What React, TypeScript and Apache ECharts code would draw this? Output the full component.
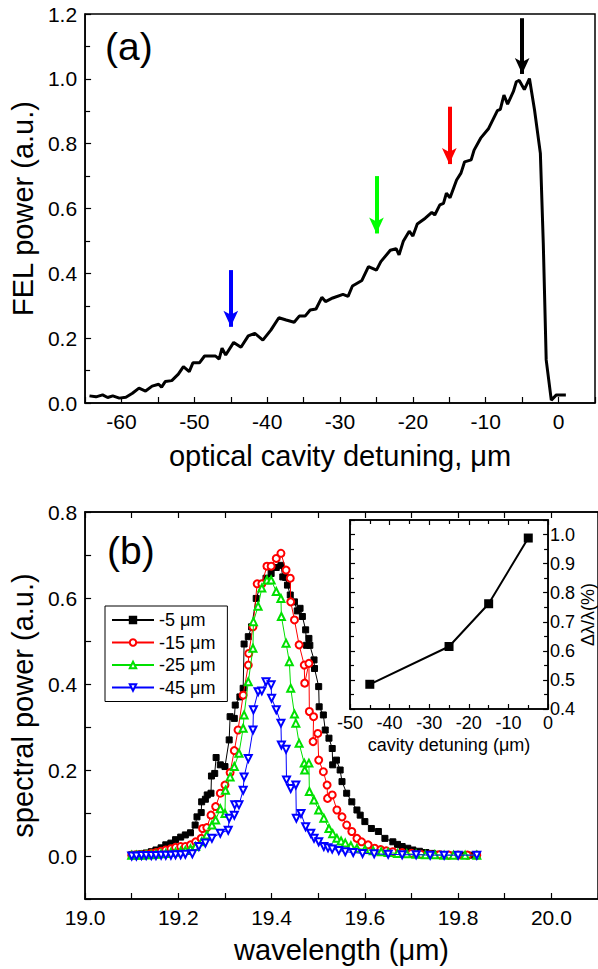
import { useEffect, useRef } from 'react';
import * as echarts from 'echarts';

// ---------- Panel (a): FEL power vs optical cavity detuning ----------
const detuningUm = [
  -64.4, -63.5, -62.6, -61.9, -61.2, -60.3, -59.4, -58.5, -57.6, -56.7, -55.8, -54.9, -54.5, -54.0,
  -53.1, -52.2, -51.5, -50.7, -50.2, -49.3, -48.6, -47.1, -46.6, -46.2, -45.7, -44.6, -43.6, -42.6,
  -41.7, -40.6, -39.5, -38.4, -37.4, -36.3, -35.6, -34.8, -34.1, -33.3, -32.5, -32.0, -31.0, -29.6,
  -28.9, -28.3, -27.0, -26.1, -25.0, -24.4, -23.1, -22.3, -21.9, -21.3, -20.5, -20.0, -19.4, -18.3,
  -17.4, -17.0, -16.3, -15.8, -15.4, -14.9, -14.0, -13.4, -12.9, -12.0, -11.6, -10.7, -9.6, -8.4,
  -8.0, -7.5, -7.0, -6.2, -5.8, -5.4, -4.7, -4.0, -3.3, -2.5, -2.1, -1.7, -1.0, -0.3, 1.0,
];
const felPower = [
  0.022, 0.019, 0.025, 0.017, 0.022, 0.015, 0.018, 0.030, 0.046, 0.037, 0.052, 0.058, 0.049, 0.066,
  0.069, 0.089, 0.112, 0.097, 0.124, 0.124, 0.145, 0.145, 0.135, 0.169, 0.148, 0.187, 0.172, 0.207,
  0.215, 0.194, 0.225, 0.263, 0.256, 0.249, 0.268, 0.268, 0.287, 0.290, 0.326, 0.313, 0.324, 0.335,
  0.329, 0.361, 0.378, 0.421, 0.410, 0.436, 0.471, 0.476, 0.457, 0.500, 0.530, 0.515, 0.552, 0.570,
  0.588, 0.580, 0.611, 0.616, 0.647, 0.633, 0.688, 0.709, 0.744, 0.750, 0.780, 0.817, 0.847, 0.902,
  0.906, 0.950, 0.922, 0.961, 0.991, 0.995, 0.967, 1.001, 0.904, 0.770, 0.493, 0.133, 0.009, 0.025, 0.025,
];

// arrows marking the detunings used in panel (b)
const arrowX = [-45, -25, -15, -5];
const arrowTop = [0.41, 0.70, 0.914, 1.187];
const arrowTip = [0.235, 0.523, 0.737, 1.015];
const arrowColors = ['#0000ff', '#00ff00', '#ff0000', '#000000'];

// ---------- Panel (b): spectra ----------
const seriesNames = ['-5 μm', '-15 μm', '-25 μm', '-45 μm'];
const spec5: number[][] = [
  [19.100, 0.003], [19.110, 0.004], [19.121, 0.005], [19.131, 0.007], [19.142, 0.010], [19.152, 0.014],
  [19.163, 0.019], [19.173, 0.026], [19.184, 0.030], [19.194, 0.038], [19.205, 0.044], [19.215, 0.049],
  [19.226, 0.054], [19.236, 0.072], [19.240, 0.091], [19.249, 0.101], [19.250, 0.126], [19.258, 0.132],
  [19.262, 0.142], [19.270, 0.146], [19.271, 0.186], [19.278, 0.192], [19.281, 0.229], [19.290, 0.212],
  [19.300, 0.208], [19.309, 0.270], [19.311, 0.324], [19.320, 0.320], [19.322, 0.351], [19.332, 0.370],
  [19.339, 0.390], [19.341, 0.493], [19.350, 0.510], [19.357, 0.533], [19.367, 0.599], [19.378, 0.634],
  [19.388, 0.646], [19.399, 0.657], [19.410, 0.671], [19.420, 0.676], [19.424, 0.649], [19.430, 0.648],
  [19.434, 0.630], [19.440, 0.607], [19.449, 0.591], [19.455, 0.570], [19.461, 0.576], [19.466, 0.557],
  [19.473, 0.526], [19.475, 0.490], [19.480, 0.506], [19.482, 0.490], [19.491, 0.456], [19.492, 0.436],
  [19.501, 0.394], [19.502, 0.347], [19.511, 0.328], [19.515, 0.293], [19.523, 0.274], [19.530, 0.250],
  [19.531, 0.212], [19.539, 0.223], [19.547, 0.200], [19.551, 0.173], [19.561, 0.146], [19.572, 0.126],
  [19.583, 0.107], [19.590, 0.095], [19.600, 0.080], [19.614, 0.064], [19.629, 0.057], [19.643, 0.041],
  [19.660, 0.033], [19.670, 0.027], [19.680, 0.022], [19.692, 0.018], [19.703, 0.014], [19.717, 0.011],
  [19.731, 0.008], [19.745, 0.006], [19.759, 0.004], [19.773, 0.003], [19.787, 0.002], [19.800, 0.002],
  [19.813, 0.002], [19.827, 0.002], [19.840, 0.002],
];
const spec15: number[][] = [
  [19.100, 0.002], [19.110, 0.003], [19.121, 0.003], [19.131, 0.004], [19.142, 0.006], [19.152, 0.008],
  [19.163, 0.011], [19.173, 0.014], [19.184, 0.017], [19.194, 0.020], [19.205, 0.022], [19.215, 0.022],
  [19.226, 0.026], [19.237, 0.033], [19.249, 0.041], [19.252, 0.064], [19.261, 0.066], [19.270, 0.095],
  [19.280, 0.115], [19.290, 0.146], [19.300, 0.165], [19.311, 0.194], [19.320, 0.245], [19.328, 0.293],
  [19.339, 0.374], [19.350, 0.444], [19.351, 0.471], [19.360, 0.533], [19.369, 0.633], [19.379, 0.633],
  [19.390, 0.674], [19.399, 0.674], [19.410, 0.692], [19.420, 0.704], [19.431, 0.665], [19.440, 0.646],
  [19.441, 0.591], [19.449, 0.549], [19.459, 0.491], [19.470, 0.444], [19.471, 0.402], [19.480, 0.448],
  [19.481, 0.336], [19.490, 0.324], [19.489, 0.266], [19.499, 0.285], [19.501, 0.223], [19.511, 0.196],
  [19.519, 0.165], [19.520, 0.134], [19.530, 0.142], [19.540, 0.107], [19.551, 0.091], [19.561, 0.072],
  [19.572, 0.057], [19.583, 0.041], [19.593, 0.033], [19.607, 0.026], [19.621, 0.018], [19.634, 0.015],
  [19.646, 0.012], [19.660, 0.010], [19.680, 0.008], [19.700, 0.006], [19.720, 0.004], [19.740, 0.003],
  [19.760, 0.003], [19.780, 0.002], [19.800, 0.002], [19.820, 0.002], [19.840, 0.002],
];
const spec25: number[][] = [
  [19.100, 0.002], [19.110, 0.002], [19.121, 0.002], [19.131, 0.003], [19.142, 0.003], [19.152, 0.004],
  [19.163, 0.005], [19.173, 0.006], [19.184, 0.008], [19.194, 0.009], [19.205, 0.011], [19.215, 0.013],
  [19.226, 0.017], [19.237, 0.022], [19.250, 0.033], [19.261, 0.049], [19.272, 0.072], [19.280, 0.084],
  [19.290, 0.110], [19.300, 0.099], [19.301, 0.153], [19.311, 0.184], [19.320, 0.208], [19.330, 0.239],
  [19.339, 0.297], [19.341, 0.328], [19.350, 0.405], [19.360, 0.483], [19.361, 0.545], [19.371, 0.581],
  [19.379, 0.623], [19.390, 0.642], [19.399, 0.642], [19.410, 0.615], [19.420, 0.599], [19.421, 0.557],
  [19.431, 0.495], [19.438, 0.452], [19.441, 0.390], [19.449, 0.330], [19.452, 0.309], [19.459, 0.262],
  [19.470, 0.216], [19.471, 0.200], [19.480, 0.216], [19.481, 0.150], [19.491, 0.130], [19.501, 0.107],
  [19.512, 0.088], [19.523, 0.064], [19.531, 0.052], [19.540, 0.041], [19.549, 0.035], [19.558, 0.030],
  [19.570, 0.024], [19.583, 0.018], [19.600, 0.015], [19.618, 0.012], [19.635, 0.010], [19.650, 0.008],
  [19.670, 0.006], [19.690, 0.005], [19.710, 0.004], [19.730, 0.003], [19.750, 0.003], [19.770, 0.002],
  [19.790, 0.002], [19.815, 0.002], [19.840, 0.002],
];
const spec45: number[][] = [
  [19.100, 0.000], [19.110, 0.000], [19.121, 0.001], [19.131, 0.001], [19.142, 0.001], [19.152, 0.001],
  [19.163, 0.002], [19.173, 0.002], [19.184, 0.002], [19.194, 0.003], [19.205, 0.003], [19.215, 0.004],
  [19.230, 0.005], [19.244, 0.022], [19.258, 0.030], [19.272, 0.041], [19.290, 0.053], [19.307, 0.060],
  [19.309, 0.088], [19.320, 0.095], [19.321, 0.119], [19.330, 0.119], [19.339, 0.153], [19.341, 0.184],
  [19.350, 0.227], [19.360, 0.293], [19.361, 0.340], [19.371, 0.382], [19.379, 0.384], [19.388, 0.405],
  [19.399, 0.398], [19.400, 0.367], [19.410, 0.340], [19.420, 0.309], [19.421, 0.258], [19.431, 0.248],
  [19.432, 0.177], [19.441, 0.157], [19.452, 0.165], [19.453, 0.088], [19.463, 0.099], [19.473, 0.068],
  [19.484, 0.053], [19.491, 0.041], [19.501, 0.033], [19.512, 0.022], [19.521, 0.019], [19.530, 0.016],
  [19.544, 0.013], [19.558, 0.010], [19.575, 0.008], [19.595, 0.006], [19.620, 0.005], [19.650, 0.004],
  [19.680, 0.003], [19.710, 0.003], [19.740, 0.002], [19.770, 0.002], [19.800, 0.002], [19.840, 0.002],
];

// ---------- Inset: relative linewidth vs detuning ----------
const insetDetuning = [-45, -25, -15, -5];
const insetWidth = [0.485, 0.615, 0.762, 0.988];

const FONT = "'Liberation Sans', Arial, Helvetica, sans-serif";
const BLACK = '#000';

const tickStyle = (len: number) => ({ show: true, inside: true, length: len, lineStyle: { color: BLACK, width: 1.2 } });
const minor = (len: number) => ({ show: true, splitNumber: 2, length: len, lineStyle: { color: BLACK, width: 1.2 } });
const axLine = { show: true, onZero: false, lineStyle: { color: BLACK, width: 1.5 } };

export default function App() {
  const ref = useRef<HTMLDivElement>(null);

  useEffect(() => {
    if (!ref.current) return;
    const chart = echarts.init(ref.current, undefined, { renderer: 'svg' });

    const lineData = detuningUm.map((x, i) => [x, felPower[i]]);
    const arrowLines = arrowX.map((x, i) => [
      { coord: [x, arrowTop[i]], lineStyle: { color: arrowColors[i], width: 4, type: 'solid' } },
      { coord: [x, arrowTip[i]] },
    ]);

    const specSeries = [spec5, spec15, spec25, spec45];
    const specColors = ['#000000', '#ff0000', '#00e000', '#0000ff'];
    const specSymbols = ['rect', 'emptyCircle', 'emptyTriangle', 'emptyTriangle'];
    const specSizes = [6, 7, 7, 7];
    const specRot = [0, 0, 0, 180];

    const option: any = {
      animation: false,
      textStyle: { fontFamily: FONT, color: BLACK },
      grid: [
        { left: 85, top: 14, width: 521, height: 389, show: true, borderColor: BLACK, borderWidth: 1.5, containLabel: false },
        { left: 85, top: 512, width: 519, height: 387, show: true, borderColor: BLACK, borderWidth: 1.5, containLabel: false },
        { left: 350, top: 520, width: 203, height: 189, show: true, borderColor: BLACK, borderWidth: 1.5, containLabel: false },
      ],
      xAxis: [
        {
          gridIndex: 0, type: 'value', min: -65, max: 5, interval: 5, position: 'bottom',
          axisLine: axLine, axisTick: tickStyle(6), splitLine: { show: false },
          axisLabel: {
            fontSize: 21, color: BLACK, margin: 8, fontFamily: FONT,
            formatter: (v: number) => (Math.round(v) % 10 === 0 && v <= 0 ? String(Math.round(v)) : ''),
          },
          name: 'optical cavity detuning, μm', nameLocation: 'middle', nameGap: 38,
          nameTextStyle: { fontSize: 29, color: BLACK, fontFamily: FONT },
        },
        {
          gridIndex: 1, type: 'value', min: 19.0, max: 20.1, interval: 0.2, position: 'bottom',
          axisLine: axLine, axisTick: tickStyle(6), minorTick: minor(6), splitLine: { show: false },
          axisLabel: {
            fontSize: 21, color: BLACK, margin: 8, fontFamily: FONT, showMaxLabel: false,
            formatter: (v: number) => v.toFixed(1),
          },
          name: 'wavelength (μm)', nameLocation: 'middle', nameGap: 36,
          nameTextStyle: { fontSize: 29, color: BLACK, fontFamily: FONT },
        },
        {
          gridIndex: 1, type: 'value', min: 19.0, max: 20.1, interval: 0.2, position: 'top',
          axisLine: axLine, axisTick: tickStyle(6), minorTick: minor(6), splitLine: { show: false },
          axisLabel: { show: false },
        },
        {
          gridIndex: 2, type: 'value', min: -50, max: 0, interval: 10, position: 'bottom',
          axisLine: axLine, axisTick: tickStyle(5), minorTick: minor(4), splitLine: { show: false },
          axisLabel: { fontSize: 18, color: BLACK, margin: 5, fontFamily: FONT, formatter: (v: number) => String(v) },
          name: 'cavity detuning (μm)', nameLocation: 'middle', nameGap: 27,
          nameTextStyle: { fontSize: 18, color: BLACK, fontFamily: FONT },
        },
        {
          gridIndex: 2, type: 'value', min: -50, max: 0, interval: 10, position: 'top',
          axisLine: axLine, axisTick: tickStyle(5), minorTick: minor(4), splitLine: { show: false },
          axisLabel: { show: false },
        },
      ],
      yAxis: [
        {
          gridIndex: 0, type: 'value', min: 0, max: 1.2, interval: 0.2, position: 'left',
          axisLine: axLine, axisTick: tickStyle(6), minorTick: minor(5), splitLine: { show: false },
          axisLabel: { fontSize: 21, color: BLACK, margin: 8, fontFamily: FONT, formatter: (v: number) => v.toFixed(1) },
          name: 'FEL power (a.u.)', nameLocation: 'middle', nameGap: 44,
          nameTextStyle: { fontSize: 29, color: BLACK, fontFamily: FONT },
        },
        {
          gridIndex: 1, type: 'value', min: -0.1, max: 0.8, interval: 0.1, position: 'left',
          axisLine: axLine, axisTick: tickStyle(6), splitLine: { show: false },
          axisLabel: {
            fontSize: 21, color: BLACK, margin: 8, fontFamily: FONT,
            formatter: (v: number) => (Math.abs(Math.round(v * 10)) % 2 === 0 && v > -0.05 ? v.toFixed(1) : ''),
          },
          name: 'spectral power (a.u.)', nameLocation: 'middle', nameGap: 44,
          nameTextStyle: { fontSize: 29, color: BLACK, fontFamily: FONT },
        },
        {
          gridIndex: 2, type: 'value', min: 0.4, max: 1.05, interval: 0.1, position: 'right',
          axisLine: axLine, axisTick: tickStyle(5), minorTick: minor(4), splitLine: { show: false },
          axisLabel: { fontSize: 18, color: BLACK, margin: 2, fontFamily: FONT, showMaxLabel: false, formatter: (v: number) => v.toFixed(1) },
          name: 'Δλ/λ(%)', nameLocation: 'middle', nameGap: 30, nameRotate: 90,
          nameTextStyle: { fontSize: 18, color: BLACK, fontFamily: FONT },
        },
        {
          gridIndex: 2, type: 'value', min: 0.4, max: 1.05, interval: 0.1, position: 'left',
          axisLine: axLine, axisTick: tickStyle(5), minorTick: minor(4), splitLine: { show: false },
          axisLabel: { show: false },
        },
      ],
      legend: {
        data: seriesNames,
        orient: 'vertical',
        left: 105, top: 606,
        padding: [4, 12, 4, 6],
        borderColor: BLACK, borderWidth: 1,
        itemWidth: 42, itemHeight: 8, itemGap: 2.5,
        textStyle: { fontSize: 18, lineHeight: 20, color: BLACK, fontFamily: FONT },
      },
      graphic: [
        { type: 'text', left: 105, top: 27, style: { text: '(a)', fontSize: 39, fontFamily: FONT, fill: BLACK } },
        { type: 'text', left: 107, top: 531, style: { text: '(b)', fontSize: 39, fontFamily: FONT, fill: BLACK } },
      ],
      series: [
        {
          type: 'line', name: 'FEL', xAxisIndex: 0, yAxisIndex: 0, data: lineData,
          showSymbol: false, lineStyle: { color: BLACK, width: 3 }, itemStyle: { color: BLACK },
          markLine: {
            silent: true, symbol: ['none', 'arrow'], symbolSize: [11, 16], label: { show: false },
            data: arrowLines,
          },
          z: 3,
        },
        ...specSeries.map((d, i) => ({
          type: 'line', name: seriesNames[i], xAxisIndex: 1, yAxisIndex: 1, data: d,
          symbol: specSymbols[i], symbolSize: specSizes[i], symbolRotate: specRot[i], showAllSymbol: true,
          lineStyle: { color: specColors[i], width: 1 },
          itemStyle: { color: specColors[i], borderColor: specColors[i], borderWidth: 1 },
          z: 2 + i,
        })),
        {
          type: 'line', name: 'inset', xAxisIndex: 3, yAxisIndex: 2,
          data: insetDetuning.map((x, i) => [x, insetWidth[i]]),
          symbol: 'rect', symbolSize: 9,
          lineStyle: { color: BLACK, width: 2 }, itemStyle: { color: BLACK },
          z: 10,
        },
      ],
    };

    chart.setOption(option);
    return () => chart.dispose();
  }, []);

  return <div ref={ref} style={{ position: 'absolute', left: 0, top: 0, width: 598, height: 969, background: '#fff' }} />;
}
